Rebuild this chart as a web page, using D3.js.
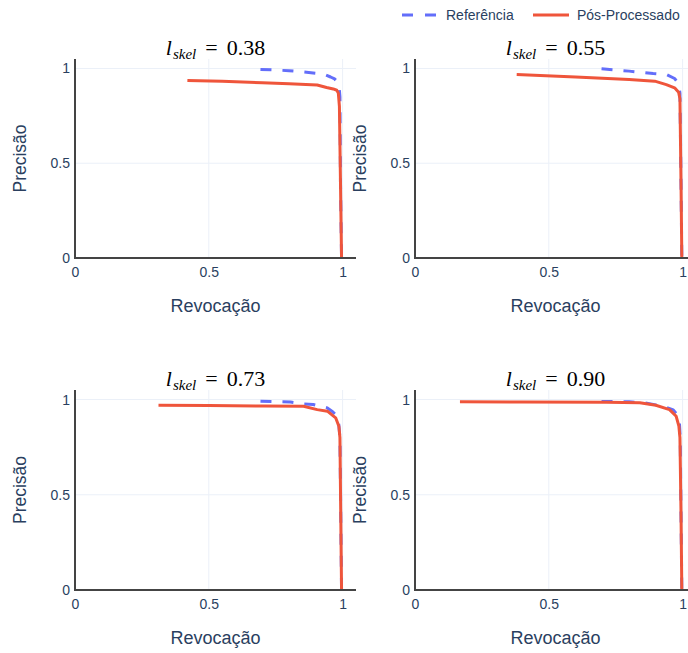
<!DOCTYPE html>
<html>
<head>
<meta charset="utf-8">
<script src="https://cdn.jsdelivr.net/npm/d3@7"></script>
<style>
  html, body { margin: 0; padding: 0; background: #fff; }
  svg { display: block; }
</style>
</head>
<body>
<svg id="chart" width="688" height="653"></svg>
<script>
// Precision–recall curves for four skeleton-length thresholds
const lskelValues = ["0.38", "0.55", "0.73", "0.90"];
const seriesNames = ["Referência", "Pós-Processado"];
const xTicks = [0, 0.5, 1];
const yTicks = [0, 0.5, 1];
const xTickLabels = ["0", "0.5", "1"];
const yTickLabels = ["0", "0.5", "1"];

// l_skel = 0.38
const ref1Recall    = [0.693, 0.75, 0.80, 0.85, 0.90, 0.935, 0.955, 0.97, 0.98, 0.987, 0.990, 0.992, 0.996];
const ref1Precision = [0.995, 0.992, 0.988, 0.982, 0.975, 0.967, 0.955, 0.945, 0.93, 0.90, 0.85, 0.40, 0.0];
const post1Recall    = [0.42, 0.55, 0.70, 0.80, 0.905, 0.94, 0.965, 0.978, 0.984, 0.988, 0.992, 0.996];
const post1Precision = [0.937, 0.932, 0.925, 0.92, 0.913, 0.90, 0.892, 0.885, 0.87, 0.80, 0.40, 0.0];

// l_skel = 0.55
const ref2Recall    = [0.697, 0.80, 0.89, 0.94, 0.97, 0.985, 0.990, 0.994, 0.997];
const ref2Precision = [0.998, 0.986, 0.973, 0.968, 0.947, 0.92, 0.87, 0.40, 0.0];
const post2Recall    = [0.38, 0.60, 0.80, 0.896, 0.939, 0.97, 0.985, 0.99, 0.994, 0.997];
const post2Precision = [0.968, 0.955, 0.942, 0.933, 0.915, 0.898, 0.875, 0.84, 0.40, 0.0];

// l_skel = 0.73
const ref3Recall    = [0.693, 0.805, 0.854, 0.89, 0.943, 0.96, 0.975, 0.985, 0.990, 0.993, 0.996];
const ref3Precision = [0.991, 0.987, 0.977, 0.974, 0.956, 0.939, 0.92, 0.88, 0.80, 0.40, 0.0];
const post3Recall    = [0.312, 0.50, 0.70, 0.854, 0.905, 0.943, 0.974, 0.986, 0.99, 0.993, 0.996];
const post3Precision = [0.97, 0.968, 0.966, 0.965, 0.947, 0.939, 0.904, 0.86, 0.80, 0.40, 0.0];

// l_skel = 0.90
const ref4Recall    = [0.697, 0.80, 0.86, 0.90, 0.94, 0.965, 0.98, 0.988, 0.991, 0.994, 0.997];
const ref4Precision = [0.99, 0.988, 0.982, 0.972, 0.958, 0.945, 0.92, 0.88, 0.80, 0.40, 0.0];
const post4Recall    = [0.168, 0.40, 0.715, 0.84, 0.90, 0.951, 0.976, 0.986, 0.99, 0.994, 0.997];
const post4Precision = [0.988, 0.987, 0.986, 0.983, 0.97, 0.947, 0.912, 0.86, 0.80, 0.40, 0.0];

const panels = [
  { title: lskelValues[0], ref: [ref1Recall, ref1Precision], post: [post1Recall, post1Precision] },
  { title: lskelValues[1], ref: [ref2Recall, ref2Precision], post: [post2Recall, post2Precision] },
  { title: lskelValues[2], ref: [ref3Recall, ref3Precision], post: [post3Recall, post3Precision] },
  { title: lskelValues[3], ref: [ref4Recall, ref4Precision], post: [post4Recall, post4Precision] }
];

const COLORS = { ref: "#636efa", post: "#ef553b" };
const TEXT = "#2a3f5f";
const GRID = "#ebf0f8";
const AXIS = "#444";
const FONT = "'Liberation Sans', Arial, sans-serif";
const MATH = "'Liberation Serif', 'DejaVu Serif', serif";

const svg = d3.select("#chart");

// Subplot geometry: columns and rows of the 2x2 grid
const cols = [{ x0: 75, x1: 356 }, { x0: 415, x1: 696 }];
const rows = [{ y0: 59, y1: 258 }, { y0: 390, y1: 590 }];
const DOMAIN = [0, 1.05];

panels.forEach((p, i) => {
  const c = cols[i % 2], r = rows[Math.floor(i / 2)];
  const x = d3.scaleLinear().domain(DOMAIN).range([c.x0, c.x1]);
  const y = d3.scaleLinear().domain(DOMAIN).range([r.y1, r.y0]);
  const g = svg.append("g");

  const clipId = "clip" + i;
  g.append("clipPath").attr("id", clipId)
    .append("rect")
    .attr("x", c.x0).attr("y", r.y0 - 2)
    .attr("width", c.x1 - c.x0 + 2).attr("height", r.y1 - r.y0 + 2);

  // Grid lines
  const grid = g.append("g");
  grid.selectAll(".gx").data(xTicks.filter(t => t > 0)).join("line")
    .attr("x1", d => x(d)).attr("x2", d => x(d))
    .attr("y1", r.y0).attr("y2", r.y1)
    .attr("stroke", GRID).attr("stroke-width", 1);
  grid.selectAll(".gy").data(yTicks.filter(t => t > 0)).join("line")
    .attr("y1", d => y(d)).attr("y2", d => y(d))
    .attr("x1", c.x0).attr("x2", c.x1)
    .attr("stroke", GRID).attr("stroke-width", 1);

  // Axes (no tick marks, labels only)
  const xAxis = d3.axisBottom(x).tickValues(xTicks).tickSize(0).tickPadding(9)
    .tickFormat((d, k) => xTickLabels[k]);
  const yAxis = d3.axisLeft(y).tickValues(yTicks).tickSize(0).tickPadding(5)
    .tickFormat((d, k) => yTickLabels[k]);

  const gx = g.append("g").attr("transform", `translate(0,${r.y1})`).call(xAxis);
  const gy = g.append("g").attr("transform", `translate(${c.x0},0)`).call(yAxis);
  [gx, gy].forEach(a => {
    a.select(".domain").remove();
    a.selectAll("text").attr("fill", TEXT).style("font-family", FONT).style("font-size", "14px");
  });

  // Curves
  const line = d3.line().x(d => x(d[0])).y(d => y(d[1]));
  const refPts = d3.zip(p.ref[0], p.ref[1]);
  const postPts = d3.zip(p.post[0], p.post[1]);
  const curves = g.append("g").attr("clip-path", `url(#${clipId})`);
  curves.append("path").datum(refPts).attr("d", line)
    .attr("fill", "none").attr("stroke", COLORS.ref).attr("stroke-width", 3)
    .attr("stroke-dasharray", "11,11").attr("stroke-linejoin", "round");
  curves.append("path").datum(postPts).attr("d", line)
    .attr("fill", "none").attr("stroke", COLORS.post).attr("stroke-width", 3)
    .attr("stroke-linejoin", "round");

  // Axis lines
  g.append("line").attr("x1", c.x0).attr("x2", c.x1).attr("y1", r.y1).attr("y2", r.y1)
    .attr("stroke", AXIS).attr("stroke-width", 2);
  g.append("line").attr("x1", c.x0).attr("x2", c.x0).attr("y1", r.y0).attr("y2", r.y1 + 1)
    .attr("stroke", AXIS).attr("stroke-width", 2);

  // Axis titles
  const cx = (c.x0 + c.x1) / 2;
  g.append("text").attr("x", cx).attr("y", r.y1 + 54)
    .attr("text-anchor", "middle").attr("fill", TEXT)
    .style("font-family", FONT).style("font-size", "18px").text("Revocação");
  const cy = (r.y0 + r.y1) / 2;
  g.append("text").attr("transform", `translate(${c.x0 - 49},${cy}) rotate(-90)`)
    .attr("text-anchor", "middle").attr("fill", TEXT)
    .style("font-family", FONT).style("font-size", "17.5px").text("Precisão");

  // Subplot title: l_skel = value
  const t = g.append("text").attr("x", cx).attr("y", r.y0 - 4)
    .attr("text-anchor", "middle").attr("fill", "#000")
    .style("font-family", MATH).style("font-size", "22px");
  t.append("tspan").style("font-style", "italic").text("l");
  t.append("tspan").style("font-style", "italic").style("font-size", "15px")
    .attr("dx", 1).attr("dy", 4).text("skel");
  t.append("tspan").attr("dy", -4).attr("dx", 9).text("=");
  t.append("tspan").attr("dx", 9).text(p.title);
});

// Legend
const legend = svg.append("g");
const items = [
  { name: seriesNames[0], color: COLORS.ref, dash: "11,12", x: 402 },
  { name: seriesNames[1], color: COLORS.post, dash: null, x: 533 }
];
items.forEach(it => {
  const ln = legend.append("line").attr("x1", it.x).attr("x2", it.x + 36)
    .attr("y1", 15).attr("y2", 15).attr("stroke", it.color).attr("stroke-width", 3);
  if (it.dash) ln.attr("stroke-dasharray", it.dash);
  legend.append("text").attr("x", it.x + 44).attr("y", 20).attr("fill", TEXT)
    .style("font-family", FONT).style("font-size", "14px").text(it.name);
});
</script>
</body>
</html>
